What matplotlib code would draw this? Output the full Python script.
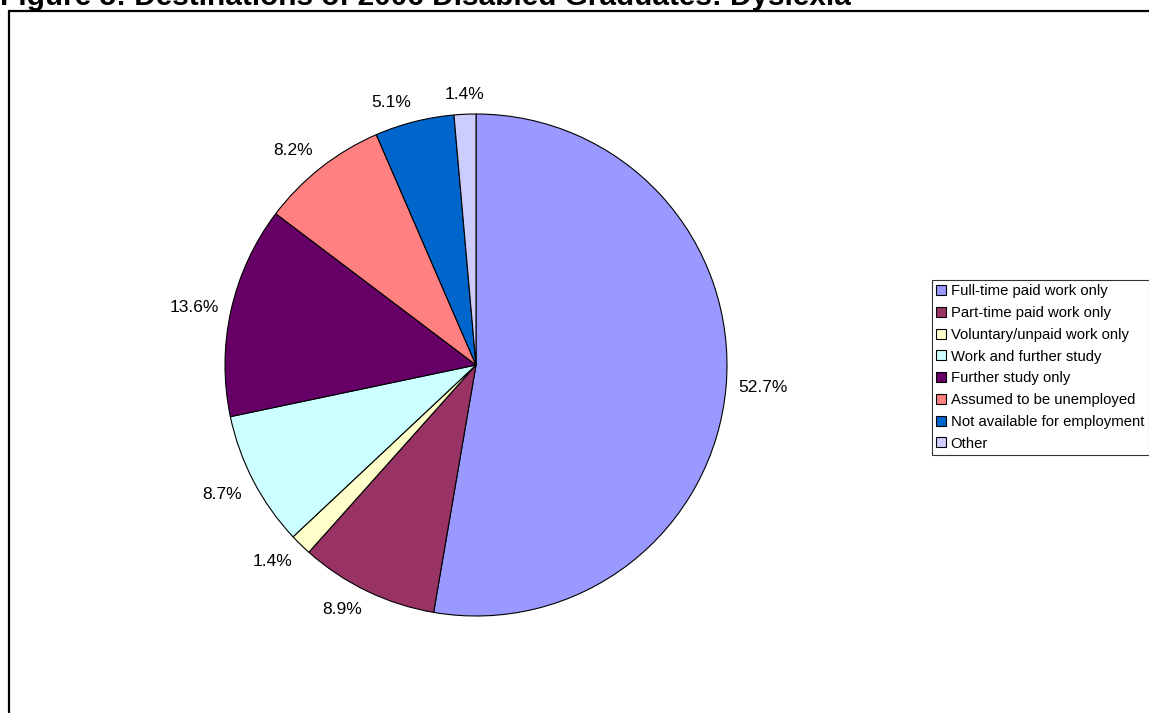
import matplotlib
matplotlib.use("Agg")
import numpy as np
import matplotlib.pyplot as plt
from matplotlib.patches import Rectangle

plt.rcParams["font.family"] = ["Liberation Sans", "DejaVu Sans"]

# Destinations of graduates with dyslexia (%)
categories = [
    "Full-time paid work only",
    "Part-time paid work only",
    "Voluntary/unpaid work only",
    "Work and further study",
    "Further study only",
    "Assumed to be unemployed",
    "Not available for employment",
    "Other",
]
shares = [52.7, 8.9, 1.4, 8.7, 13.6, 8.2, 5.1, 1.4]
colours = ["#9999FF", "#993366", "#FFFFCC", "#CCFFFF",
           "#660066", "#FF8080", "#0066CC", "#CCCCFF"]

W, H = 1149, 713
fig = plt.figure(figsize=(W / 100, H / 100), dpi=100)

# title sits partly above the top edge
fig.text(0.0, 1 - 5 / H, "Figure 5: Destinations of 2006 Disabled Graduates: Dyslexia",
         fontsize=21.4, fontweight="bold", ha="left", va="baseline")

# outer chart frame, running off the right and bottom edges
fig.patches.append(Rectangle((9 / W, -0.1), 1.2, 1 - 11 / H + 0.1,
                             transform=fig.transFigure, fill=False,
                             edgecolor="black", linewidth=1.6))

cx, cy, r = 476, 365, 251
ax = fig.add_axes([(cx - r) / W, (H - cy - r) / H, 2 * r / W, 2 * r / H])
wedges, _ = ax.pie(
    shares,
    colors=colours,
    startangle=90,
    counterclock=False,
    wedgeprops=dict(edgecolor="black", linewidth=0.8),
)

# percentage labels just outside each slice, aligned away from the pie
for w, v in zip(wedges, shares):
    ang = np.deg2rad((w.theta1 + w.theta2) / 2)
    c, s = np.cos(ang), np.sin(ang)
    ha = "left" if c > 0.1 else ("right" if c < -0.1 else "center")
    va = "bottom" if s > 0.3 else ("top" if s < -0.3 else "center")
    ax.text(1.05 * c, 1.05 * s, f"{v:.1f}%", ha=ha, va=va, fontsize=12.5)

ax.set_xlim(-1, 1)
ax.set_ylim(-1, 1)
ax.set_aspect("equal")

leg = fig.legend(wedges, categories, loc="upper left",
                 bbox_to_anchor=(932 / W, 1 - 280 / H),
                 fontsize=10.7, frameon=True, fancybox=False, shadow=False,
                 handlelength=0.65, handleheight=0.65, handletextpad=0.3,
                 labelspacing=0.52, borderpad=0.3, borderaxespad=0)
leg.get_frame().set_edgecolor("black")
leg.get_frame().set_linewidth(0.8)
for h in leg.legend_handles:
    h.set_edgecolor("black")
    h.set_linewidth(0.8)

fig.savefig("out.png", dpi=100)
